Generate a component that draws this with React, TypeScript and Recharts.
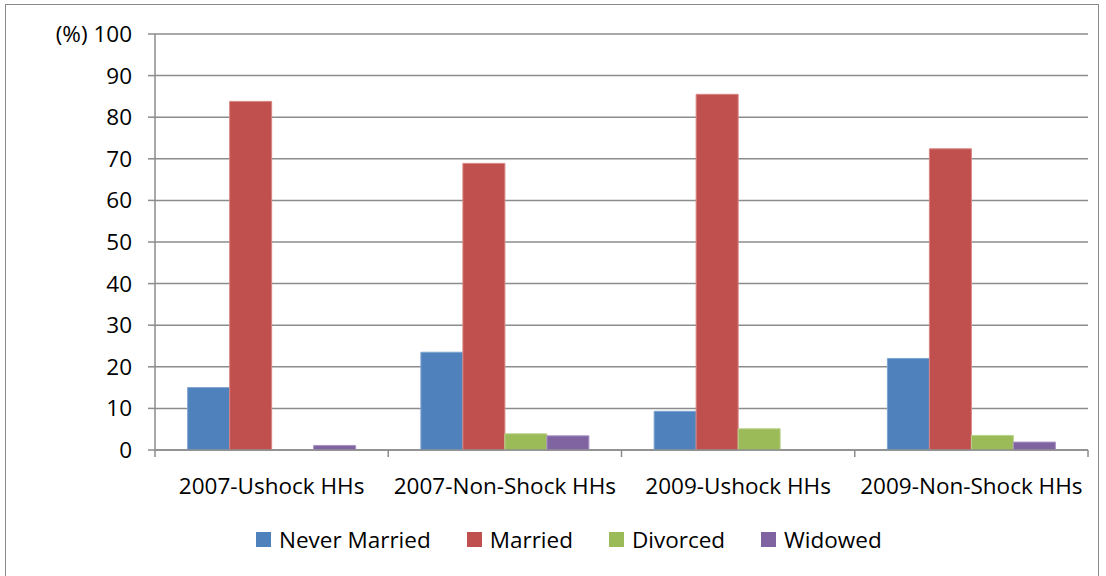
import { BarChart, Bar, XAxis, YAxis, CartesianGrid } from "recharts"

const CATEGORIES = [
  "2007-Ushock HHs",
  "2007-Non-Shock HHs",
  "2009-Ushock HHs",
  "2009-Non-Shock HHs",
]
const NEVER_MARRIED = [15.0, 23.5, 9.3, 22.0]
const MARRIED = [83.8, 68.9, 85.5, 72.4]
const DIVORCED = [0, 3.9, 5.1, 3.5]
const WIDOWED = [1.1, 3.4, 0, 1.9]
const Y_TICKS = [0, 10, 20, 30, 40, 50, 60, 70, 80, 90, 100]

const SERIES = [
  { key: "never", label: "Never Married", colour: "#4F81BD", stroke: "#7FA3D0" },
  { key: "married", label: "Married", colour: "#C0504D", stroke: "#D98583" },
  { key: "divorced", label: "Divorced", colour: "#9BBB59", stroke: "#BCD38D" },
  { key: "widowed", label: "Widowed", colour: "#8064A2", stroke: "#A993C4" },
] as const

const FONT = "'Open Sans', sans-serif"
const FONT_SIZE = 22.5
const GRID = "#8c8c8c"

const data = CATEGORIES.map((name, i) => ({
  name,
  never: NEVER_MARRIED[i],
  married: MARRIED[i],
  divorced: DIVORCED[i],
  widowed: WIDOWED[i],
}))

const W = 1106
const H = 576
const PLOT_LEFT = 155
const PLOT_RIGHT = 18
const BAND = (W - PLOT_LEFT - PLOT_RIGHT) / CATEGORIES.length

// category label plus boundary tick marks (Excel style)
function CategoryTick(props: any) {
  const { x, y, payload, index } = props
  const left = x - BAND / 2
  const right = x + BAND / 2
  return (
    <g>
      <line x1={left} x2={left} y1={y - 8} y2={y - 1} stroke={GRID} strokeWidth={1.5} />
      {index === CATEGORIES.length - 1 && (
        <line x1={right} x2={right} y1={y - 8} y2={y - 1} stroke={GRID} strokeWidth={1.5} />
      )}
      <text
        x={x}
        y={y + 36}
        textAnchor="middle"
        fontFamily={FONT}
        fontSize={FONT_SIZE}
        fill="#000"
      >
        {payload.value}
      </text>
    </g>
  )
}

export default function App() {
  return (
    <div style={{ position: "absolute", left: 0, top: 0, width: W, height: H, background: "#fff" }}>
      <div
        style={{
          position: "absolute",
          left: 5,
          top: 4,
          width: 1094,
          height: 580,
          border: "1.5px solid #8a8a8a",
          boxSizing: "border-box",
        }}
      />
      <div style={{ position: "absolute", left: 0, top: 0 }}>
        <BarChart
          width={W}
          height={H}
          data={data}
          margin={{ top: 34, right: PLOT_RIGHT, bottom: 86, left: 0 }}
          barCategoryGap="14%"
          barGap={0}
        >
          <CartesianGrid vertical={false} stroke={GRID} strokeWidth={1.5} />
          <YAxis
            width={PLOT_LEFT}
            domain={[0, 100]}
            ticks={Y_TICKS}
            interval={0}
            axisLine={{ stroke: GRID, strokeWidth: 1.5 }}
            tickLine={{ stroke: GRID, strokeWidth: 1.5 }}
            tickSize={7}
            tickMargin={16}
            tickFormatter={(v: number) => (v === 100 ? "(%) 100" : String(v))}
            tick={{ fontFamily: FONT, fontSize: FONT_SIZE, fill: "#000" }}
          />
          <XAxis
            dataKey="name"
            height={40}
            interval={0}
            axisLine={{ stroke: GRID, strokeWidth: 1.5 }}
            tickLine={false}
            tick={<CategoryTick />}
          />
          {SERIES.map((s) => (
            <Bar
              key={s.key}
              dataKey={s.key}
              fill={s.colour}
              stroke={s.stroke}
              strokeWidth={1}
              isAnimationActive={false}
            />
          ))}
        </BarChart>
      </div>
      <div
        style={{
          position: "absolute",
          left: 256,
          top: 524,
          display: "flex",
          alignItems: "center",
          fontFamily: FONT,
          fontSize: FONT_SIZE,
          color: "#000",
          whiteSpace: "nowrap",
        }}
      >
        {SERIES.map((s, i) => (
          <div
            key={s.key}
            style={{ display: "flex", alignItems: "center", marginRight: i < SERIES.length - 1 ? 36 : 0 }}
          >
            <span
              style={{
                display: "inline-block",
                width: 15,
                height: 15,
                background: s.colour,
                marginRight: 8,
              }}
            />
            <span>{s.label}</span>
          </div>
        ))}
      </div>
    </div>
  )
}
